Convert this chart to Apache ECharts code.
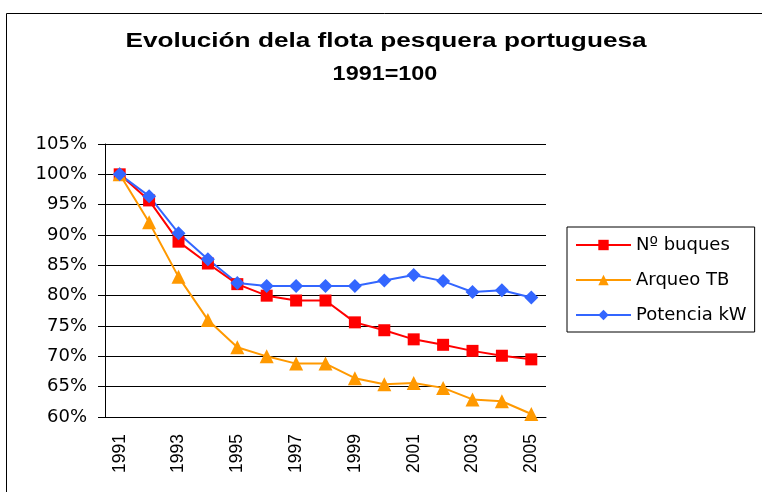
<!DOCTYPE html>
<html>
<head>
<meta charset="utf-8">
<script src="https://cdn.jsdelivr.net/npm/echarts@6/dist/echarts.min.js"></script>
<style>
  html, body { margin: 0; padding: 0; background: #fff; }
  #chart { width: 762px; height: 492px; }
</style>
</head>
<body>
<div id="chart"></div>
<script>
// años
var years = ['1991', '1992', '1993', '1994', '1995', '1996', '1997', '1998',
             '1999', '2000', '2001', '2002', '2003', '2004', '2005'];
// índices 1991=100 (%)
var buques  = [100, 95.7, 88.9, 85.3, 81.9, 80.0, 79.2, 79.2, 75.6, 74.3, 72.8, 71.9, 70.9, 70.1, 69.5];
var arqueo  = [100, 92.1, 83.1, 76.0, 71.5, 70.0, 68.8, 68.8, 66.4, 65.4, 65.6, 64.8, 62.9, 62.6, 60.5];
var potencia = [100, 96.4, 90.3, 86.0, 82.1, 81.6, 81.6, 81.6, 81.6, 82.5, 83.4, 82.4, 80.6, 80.9, 79.7];

var titulo = 'Evolución dela flota pesquera portuguesa';
var subtitulo = '1991=100';

var font = 'Liberation Sans, Arial, sans-serif';
var wide = 'DejaVu Sans, Verdana, sans-serif';
var chart = echarts.init(document.getElementById('chart'));

function line(name, data, color, symbol, size) {
    return {
        name: name,
        type: 'line',
        data: data,
        symbol: symbol,
        symbolSize: size,
        lineStyle: { color: color, width: 2 },
        itemStyle: { color: color },
        animation: false
    };
}

var option = {
    backgroundColor: '#fff',
    // el título va estirado en horizontal como en el original
    graphic: [
        {
            type: 'rect',
            shape: { x: 6.5, y: 13.5, width: 800, height: 600 },
            style: { fill: 'none', stroke: '#000', lineWidth: 1 },
            silent: true, z: -1
        },
        {
            type: 'text', x: 386, y: 41, scaleX: 1.31,
            style: { text: titulo, font: 'bold 20px ' + font, fill: '#000',
                     textAlign: 'center', textVerticalAlign: 'middle' }
        },
        {
            type: 'text', x: 385, y: 74, scaleX: 1.17,
            style: { text: subtitulo, font: 'bold 20px ' + font, fill: '#000',
                     textAlign: 'center', textVerticalAlign: 'middle' }
        }
    ],
    legend: {
        orient: 'vertical',
        left: 567,
        top: 227,
        padding: [8, 8, 7, 8],
        itemGap: 15,
        itemWidth: 55,
        itemHeight: 13,
        borderColor: '#000',
        borderWidth: 1,
        textStyle: { fontFamily: wide, fontSize: 18, color: '#000', lineHeight: 20 },
        data: ['Nº buques', 'Arqueo TB', 'Potencia kW']
    },
    grid: { left: 105, right: 216, top: 144, bottom: 75 },
    xAxis: {
        type: 'category',
        data: years,
        boundaryGap: true,
        axisLine: { lineStyle: { color: '#000', width: 1 } },
        axisTick: { interval: 0, length: 6, lineStyle: { color: '#000' } },
        axisLabel: {
            interval: 1, rotate: 90, margin: 17,
            fontFamily: font, fontSize: 17.5, color: '#000'
        },
        splitLine: { show: false }
    },
    yAxis: {
        type: 'value',
        min: 60, max: 105, interval: 5,
        axisLine: { show: true, lineStyle: { color: '#000', width: 1 } },
        axisTick: { show: true, length: 7, lineStyle: { color: '#000' } },
        axisLabel: {
            formatter: '{value}%', margin: 18,
            fontFamily: wide, fontSize: 18, color: '#000'
        },
        splitLine: { show: true, lineStyle: { color: '#000', width: 1 } }
    },
    series: [
        line('Nº buques', buques, '#ff0000', 'rect', 12),
        line('Arqueo TB', arqueo, '#ff9900', 'triangle', 14),
        line('Potencia kW', potencia, '#3366ff', 'diamond', 14)
    ]
};
chart.setOption(option);
</script>
</body>
</html>
